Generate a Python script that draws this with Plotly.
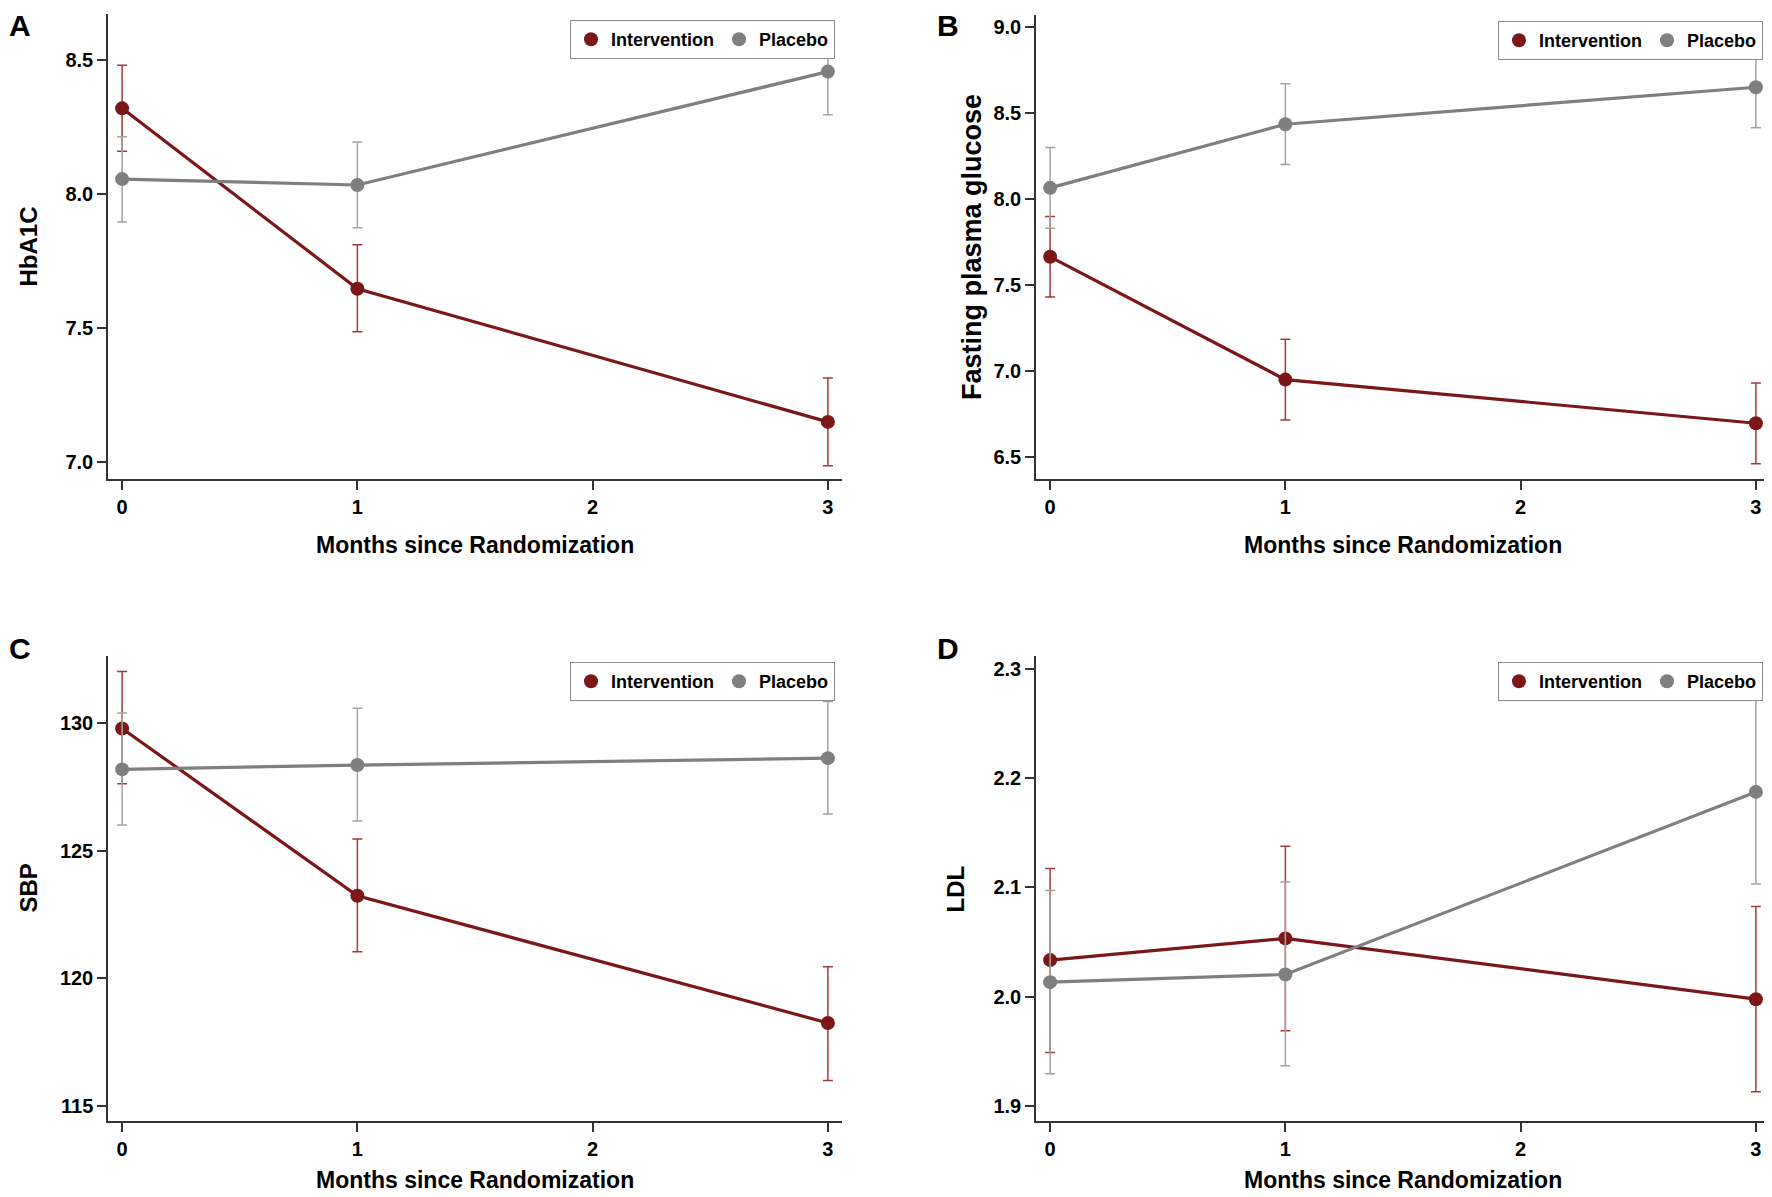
import plotly.graph_objects as go

# the page puts the plot 8px in from the top-left corner, so work in page pixels
OFF = 8
W, H = 1772 - OFF, 1197 - OFF

months = [0, 1, 3]
x_ticks = [0, 1, 2, 3]

# A - HbA1C
hba1c_int = [8.32, 7.647, 7.15]
hba1c_int_hi = [8.481, 7.811, 7.314]
hba1c_int_lo = [8.160, 7.486, 6.986]
hba1c_pla = [8.056, 8.034, 8.457]
hba1c_pla_hi = [8.214, 8.194, 8.619]
hba1c_pla_lo = [7.896, 7.874, 8.296]
hba1c_ticks = [7.0, 7.5, 8.0, 8.5]

# B - Fasting plasma glucose
fpg_int = [7.664, 6.95, 6.696]
fpg_int_hi = [7.899, 7.185, 6.93]
fpg_int_lo = [7.43, 6.715, 6.46]
fpg_pla = [8.065, 8.435, 8.65]
fpg_pla_hi = [8.30, 8.67, 8.885]
fpg_pla_lo = [7.83, 8.20, 8.415]
fpg_ticks = [6.5, 7.0, 7.5, 8.0, 8.5, 9.0]

# C - SBP
sbp_int = [129.78, 123.23, 118.25]
sbp_int_hi = [132.01, 125.45, 120.45]
sbp_int_lo = [127.62, 121.04, 116.0]
sbp_pla = [128.18, 128.35, 128.62]
sbp_pla_hi = [130.39, 130.57, 130.84]
sbp_pla_lo = [126.0, 126.16, 126.43]
sbp_ticks = [115, 120, 125, 130]

# D - LDL
ldl_int = [2.0334, 2.0533, 1.9976]
ldl_int_hi = [2.1174, 2.1376, 2.0826]
ldl_int_lo = [1.9488, 1.9686, 1.9129]
ldl_pla = [2.0132, 2.0202, 2.1875]
ldl_pla_hi = [2.0972, 2.1049, 2.2725]
ldl_pla_lo = [1.9293, 1.9366, 2.1031]
ldl_ticks = [1.9, 2.0, 2.1, 2.2, 2.3]

RED = "#7b1719"
RED_BAR = "#a23a3d"
GRAY = "#7f7f80"
GRAY_BAR = "#a3a3a3"
AXIS = "#333333"
FONT = "Liberation Sans, Arial, sans-serif"


def px(x):
    return (x - OFF) / W


def py(y):
    return 1 - (y - OFF) / H


# pixel boxes of the four panels (left, right, top, bottom) on the page
panels = [
    dict(name="A", box=(108, 842, 14, 479), yr=[6.937, 8.672], ticks=hba1c_ticks, fmt=".1f",
         title="HbA1C", tsize=24, tx=28, xt=545,
         data=(hba1c_int, hba1c_int_hi, hba1c_int_lo, hba1c_pla, hba1c_pla_hi, hba1c_pla_lo)),
    dict(name="B", box=(1036, 1770, 15, 479), yr=[6.372, 9.07], ticks=fpg_ticks, fmt=".1f",
         title="Fasting plasma glucose", tsize=27, tx=972, xt=545,
         data=(fpg_int, fpg_int_hi, fpg_int_lo, fpg_pla, fpg_pla_hi, fpg_pla_lo)),
    dict(name="C", box=(108, 842, 656, 1121), yr=[114.41, 132.62], ticks=sbp_ticks, fmt="d",
         title="SBP", tsize=24, tx=28, xt=1180,
         data=(sbp_int, sbp_int_hi, sbp_int_lo, sbp_pla, sbp_pla_hi, sbp_pla_lo)),
    dict(name="D", box=(1036, 1770, 656, 1121), yr=[1.886, 2.312], ticks=ldl_ticks, fmt=".1f",
         title="LDL", tsize=24, tx=955, xt=1180,
         data=(ldl_int, ldl_int_hi, ldl_int_lo, ldl_pla, ldl_pla_hi, ldl_pla_lo)),
]

fig = go.Figure()
annotations = []
layout = {}

for i, p in enumerate(panels):
    n = "" if i == 0 else str(i + 1)
    l, r, t, b = p["box"]
    leg = "legend" + n
    mean_i, hi_i, lo_i, mean_p, hi_p, lo_p = p["data"]

    for mean, hi, lo, col, bar in [(mean_i, hi_i, lo_i, RED, RED_BAR),
                                   (mean_p, hi_p, lo_p, GRAY, GRAY_BAR)]:
        fig.add_trace(go.Scatter(
            x=months, y=mean, mode="lines+markers", xaxis="x" + n, yaxis="y" + n,
            line=dict(color=col, width=3.2),
            marker=dict(color=col, size=14),
            error_y=dict(type="data", symmetric=False,
                         array=[h - m for h, m in zip(hi, mean)],
                         arrayminus=[m - q for m, q in zip(mean, lo)],
                         color=bar, thickness=1.5, width=5),
            showlegend=False))

    # legend entries show only the dot
    for name, col in [("Intervention", RED), ("Placebo", GRAY)]:
        fig.add_trace(go.Scatter(x=[None], y=[None], mode="markers", name=name,
                                 xaxis="x" + n, yaxis="y" + n, legend=leg,
                                 marker=dict(color=col, size=14)))

    axis_style = dict(showline=True, linecolor=AXIS, linewidth=1.5,
                      ticks="outside", ticklen=9, tickwidth=1.5, tickcolor=AXIS,
                      showgrid=False, zeroline=False,
                      tickfont=dict(family=FONT, size=20, color="black", weight="bold"))
    layout["xaxis" + n] = dict(domain=[px(l), px(r)], anchor="y" + n, range=[-0.06, 3.06],
                               tickvals=x_ticks, **axis_style)
    layout["yaxis" + n] = dict(domain=[py(b), py(t)], anchor="x" + n, range=p["yr"],
                               tickvals=p["ticks"], tickformat=p["fmt"], **axis_style)
    layout[leg] = dict(orientation="h", x=px(r - 7), y=py(t + 6),
                       xanchor="right", yanchor="top", bgcolor="white",
                       bordercolor="#8c8c8c", borderwidth=1,
                       font=dict(family=FONT, size=18, color="black", weight="bold"),
                       itemwidth=30, tracegroupgap=0)

    # panel letter, top row pinned to the top edge so it is not clipped
    if t < 100:
        letter_y, letter_anchor = 1.0, "top"
    else:
        letter_y, letter_anchor = py(648), "middle"
    annotations.append(dict(text="<b>" + p["name"] + "</b>", x=px(l - 88), y=letter_y,
                            xanchor="center", yanchor=letter_anchor, borderpad=0,
                            font=dict(family=FONT, size=30, color="black")))
    # y title
    annotations.append(dict(text="<b>" + p["title"] + "</b>", x=px(p["tx"]), y=py((t + b) / 2),
                            xanchor="center", yanchor="middle", textangle=-90,
                            font=dict(family=FONT, size=p["tsize"], color="black")))
    # x title
    annotations.append(dict(text="<b>Months since Randomization</b>", x=px((l + r) / 2),
                            y=py(p["xt"]), xanchor="center", yanchor="middle",
                            font=dict(family=FONT, size=23, color="black")))

for a in annotations:
    a.update(xref="paper", yref="paper", showarrow=False)

fig.update_layout(width=W, height=H, margin=dict(l=0, r=0, t=0, b=0),
                  plot_bgcolor="white", paper_bgcolor="white",
                  annotations=annotations, **layout)

fig.write_html("out.html")
